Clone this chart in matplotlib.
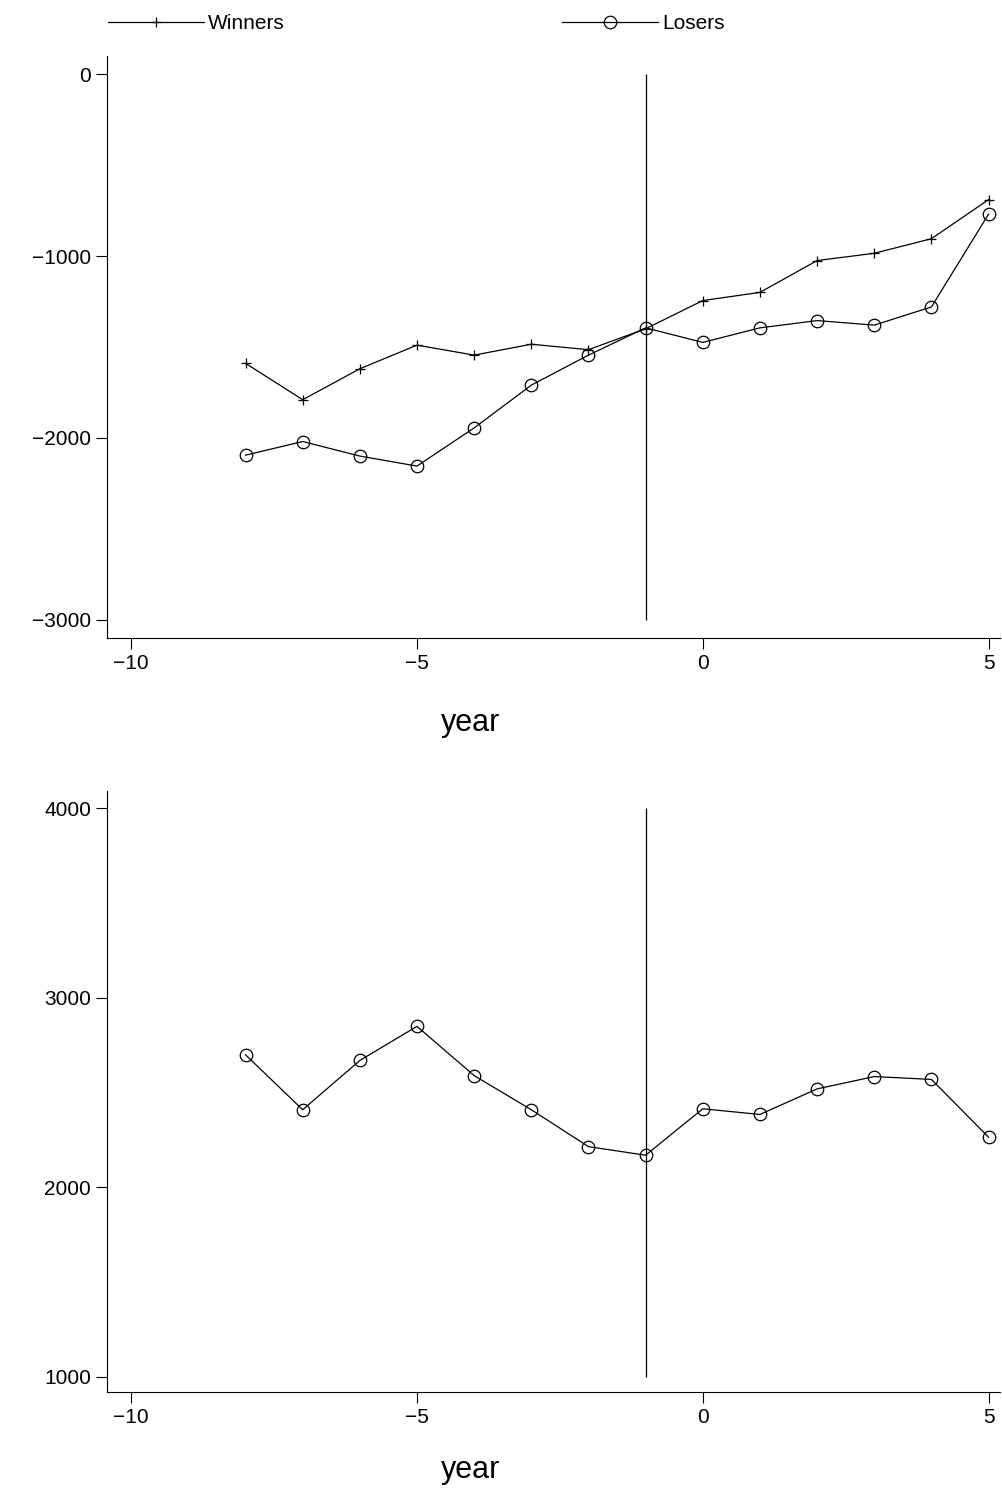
import numpy as np
import matplotlib
matplotlib.use('Agg')
import matplotlib.pyplot as plt

years = list(range(-8, 6))
winners = [-1590, -1790, -1620, -1490, -1545, -1485, -1515, -1400, -1245, -1200, -1025, -985, -905, -690]
losers = [-2095, -2020, -2100, -2155, -1945, -1710, -1545, -1395, -1475, -1395, -1355, -1380, -1280, -770]
diff = [2700, 2410, 2670, 2850, 2590, 2410, 2215, 2170, 2415, 2385, 2520, 2585, 2570, 2265]

plt.rcParams['font.family'] = ['Liberation Sans', 'DejaVu Sans']
fig = plt.figure(figsize=(10.02, 15), dpi=100)

ax1 = fig.add_axes([0.107, 0.5747, 0.891, 0.388])
ax2 = fig.add_axes([0.107, 0.072, 0.891, 0.401])

def style(ax):
    for s in ['top', 'right']:
        ax.spines[s].set_visible(False)
    ax.set_xlim(-10.42, 5.2)
    ax.set_xticks([-10, -5, 0, 5])
    ax.set_xticklabels(['\u221210', '\u22125', '0', '5'])
    ax.tick_params(labelsize=15, length=8, width=0.8)

l1, = ax1.plot(years, winners, color='black', lw=0.9, marker='+', ms=7, mew=0.9, label='Winners')
l2, = ax1.plot(years, losers, color='black', lw=0.9, marker='o', ms=9, mfc='none', mew=0.9, label='Losers')
ax1.vlines(-1, -3000, 0, color='black', lw=0.9)
ax1.set_ylim(-3100, 100)
ax1.set_yticks([-3000, -2000, -1000, 0])
ax1.set_yticklabels(['\u22123000', '\u22122000', '\u22121000', '0'])
style(ax1)

ax2.plot(years, diff, color='black', lw=0.9, marker='o', ms=9, mfc='none', mew=0.9)
ax2.vlines(-1, 1000, 4000, color='black', lw=0.9)
ax2.set_ylim(920, 4095)
ax2.set_yticks([1000, 2000, 3000, 4000])
style(ax2)

fig.text(0.47, 1 - 723 / 1500, 'year', fontsize=22, ha='center', va='center')
fig.text(0.47, 1 - 1470 / 1500, 'year', fontsize=22, ha='center', va='center')

fig.legend(handles=[l1, l2], loc='upper left', bbox_to_anchor=(0.089, 1.003), ncol=2,
           frameon=False, fontsize=15, handlelength=4.6, handletextpad=0.2, columnspacing=13.3)

fig.savefig('out.png', dpi=100)
